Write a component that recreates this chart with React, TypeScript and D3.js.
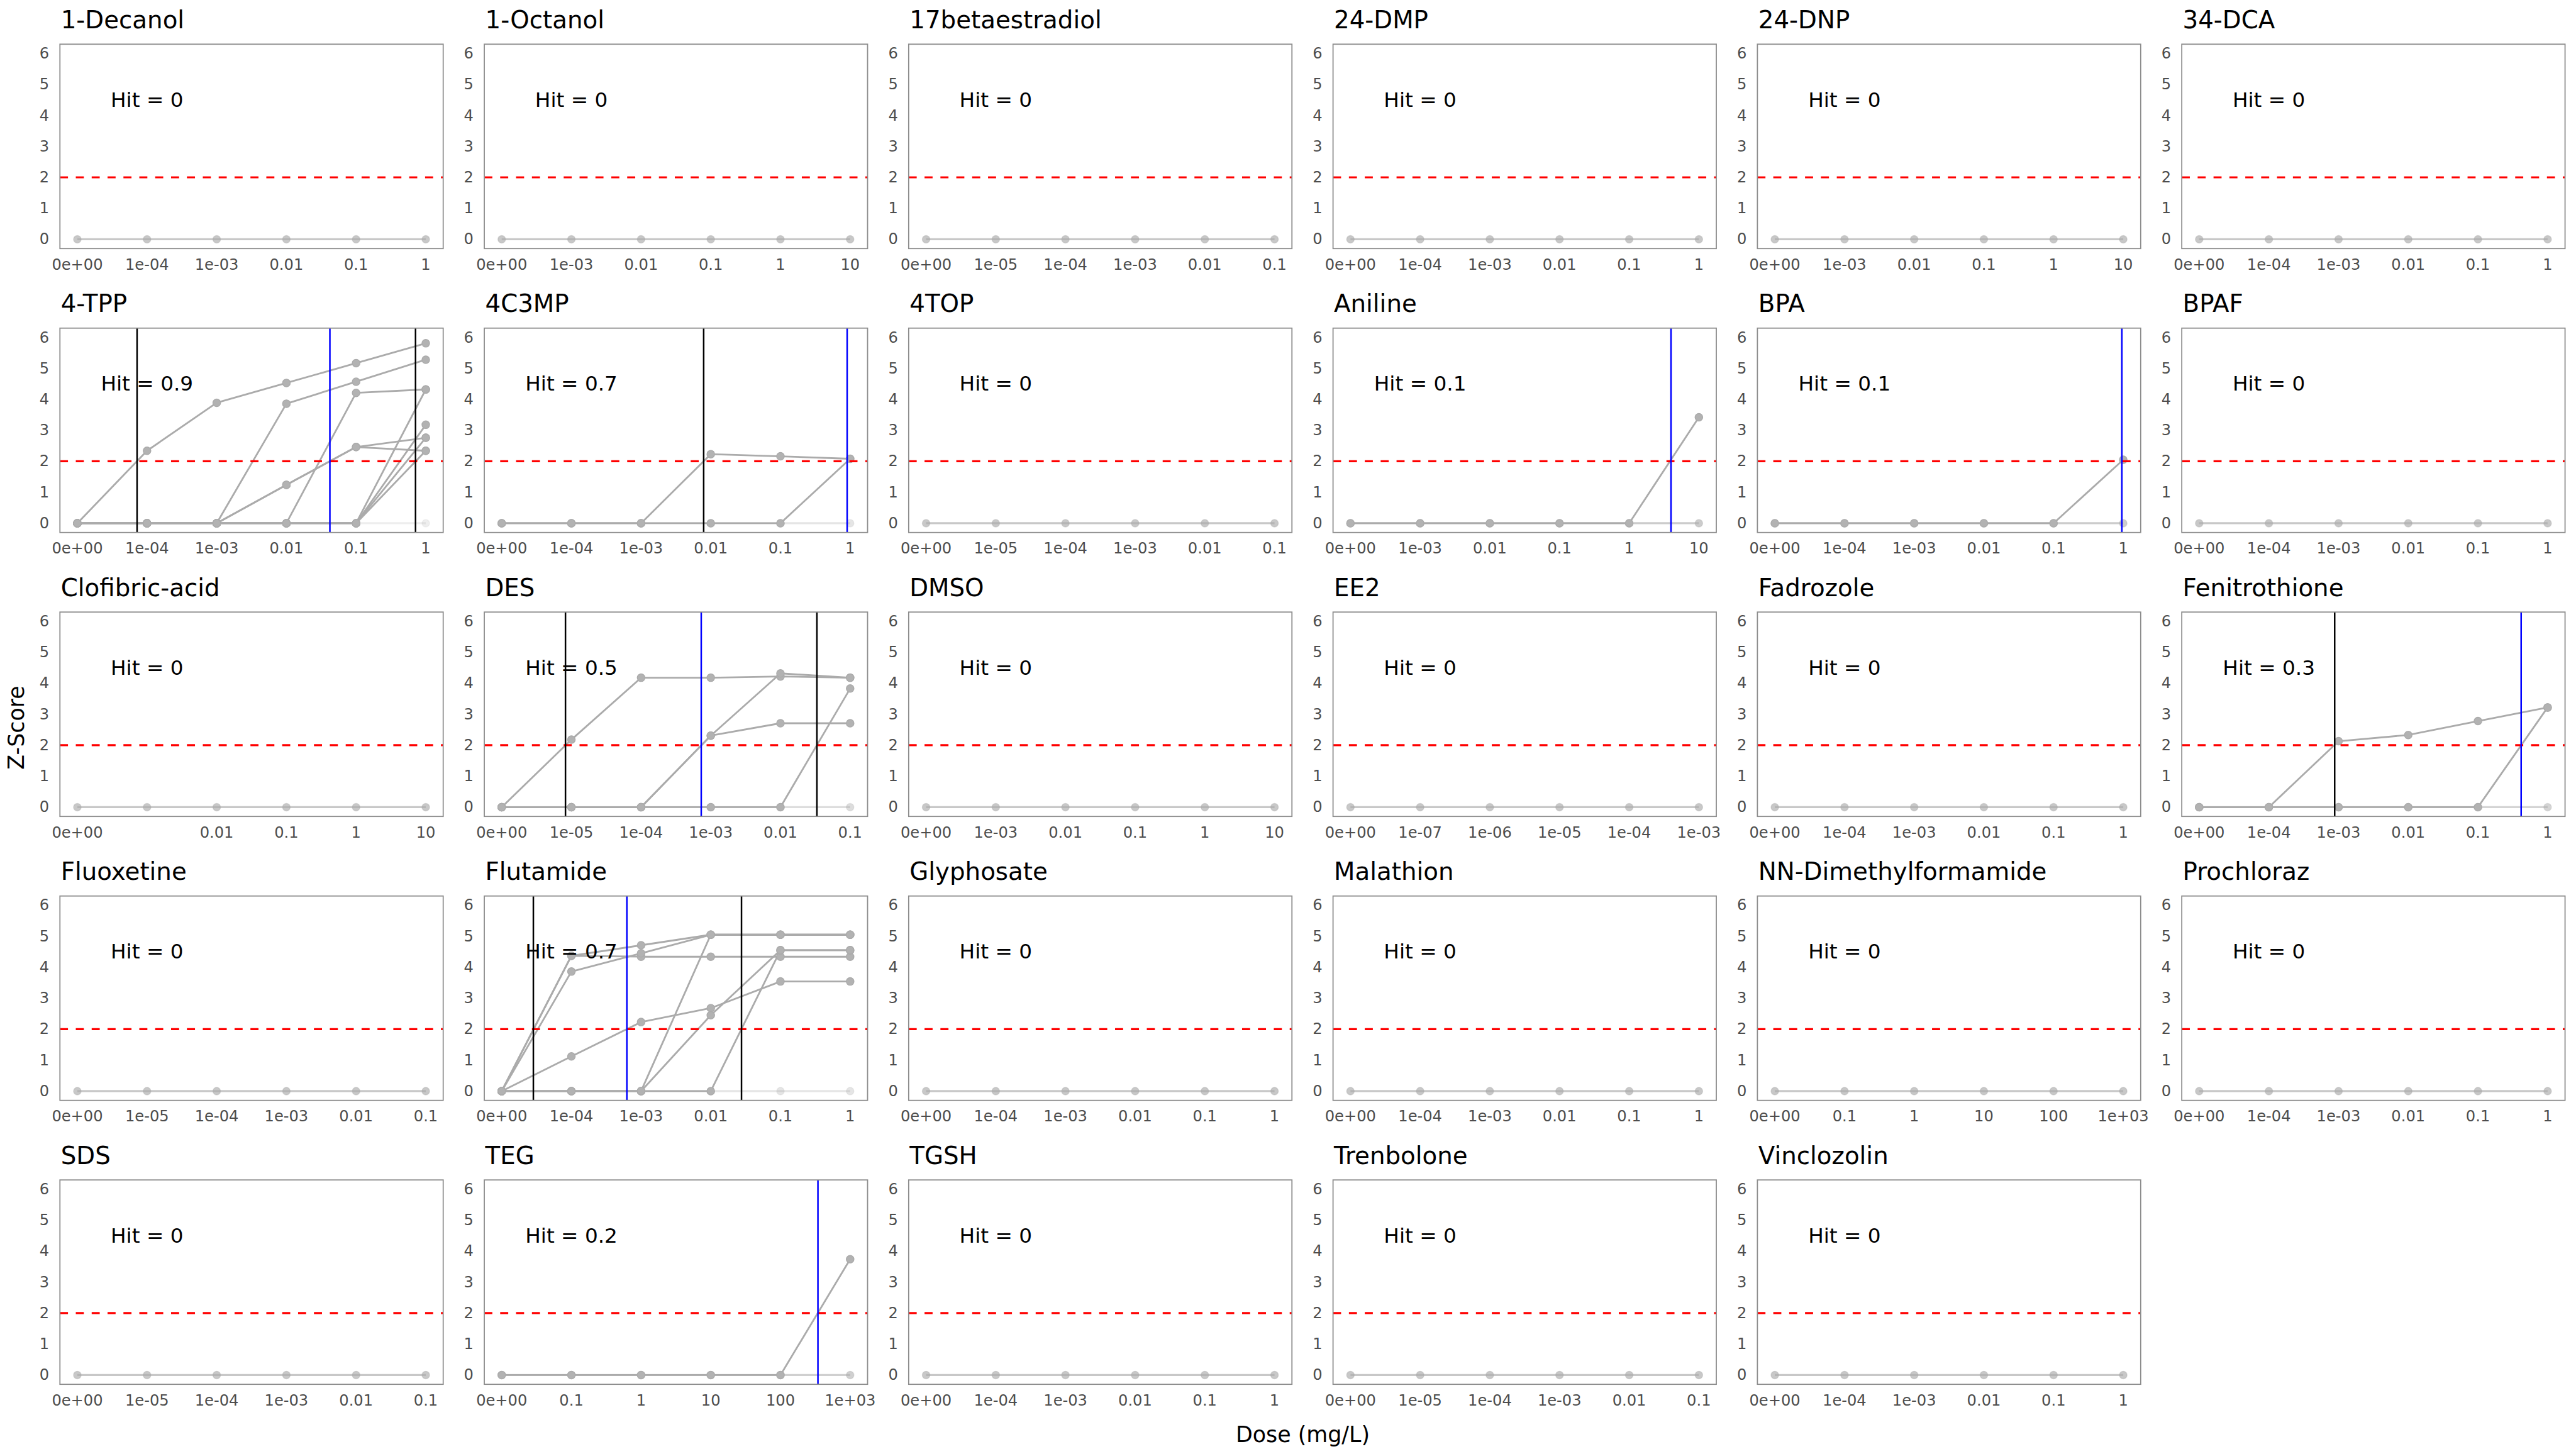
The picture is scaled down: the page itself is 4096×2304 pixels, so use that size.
import React from "react";
import * as d3 from "d3";

// ---------- data ----------
const chemicals = [
  "1-Decanol", "1-Octanol", "17betaestradiol", "24-DMP", "24-DNP", "34-DCA",
  "4-TPP", "4C3MP", "4TOP", "Aniline", "BPA", "BPAF",
  "Clofibric-acid", "DES", "DMSO", "EE2", "Fadrozole", "Fenitrothione",
  "Fluoxetine", "Flutamide", "Glyphosate", "Malathion", "NN-Dimethylformamide", "Prochloraz",
  "SDS", "TEG", "TGSH", "Trenbolone", "Vinclozolin",
];

const hitRates = [
  0, 0, 0, 0, 0, 0,
  0.9, 0.7, 0, 0.1, 0.1, 0,
  0, 0.5, 0, 0, 0, 0.3,
  0, 0.7, 0, 0, 0, 0,
  0, 0.2, 0, 0, 0,
];

const dosesA = ["0e+00", "1e-04", "1e-03", "0.01", "0.1", "1"];
const dosesB = ["0e+00", "1e-03", "0.01", "0.1", "1", "10"];
const dosesC = ["0e+00", "1e-05", "1e-04", "1e-03", "0.01", "0.1"];
const dosesD = ["0e+00", "1e-07", "1e-06", "1e-05", "1e-04", "1e-03"];
const dosesE = ["0e+00", "0.1", "1", "10", "100", "1e+03"];
const dosesF = ["0e+00", "", "0.01", "0.1", "1", "10"];

const doseLabelsByChemical = [
  dosesA, dosesB, dosesC, dosesA, dosesB, dosesA,
  dosesA, dosesA, dosesC, dosesB, dosesA, dosesA,
  dosesF, dosesC, dosesB, dosesD, dosesA, dosesA,
  dosesC, dosesA, dosesA, dosesA, dosesE, dosesA,
  dosesC, dosesE, dosesA, dosesC, dosesA,
];

const baselineCurve = [0, 0, 0, 0, 0, 0];

// Z-score curves of responding replicates (values at the six doses)
const curves4TPP = [
  [0, 2.34, 3.89, 4.53, 5.17, 5.81],
  [0, 0, 0, 3.86, 4.57, 5.28],
  [0, 0, 0, 0, 4.21, 4.32],
  [0, 0, 0, 1.24, 2.46, 2.76],
  [0, 0, 0, 1.24, 2.46, 2.34],
  [0, 0, 0, 0, 0, 4.32],
  [0, 0, 0, 0, 0, 3.18],
  [0, 0, 0, 0, 0, 2.76],
  [0, 0, 0, 0, 0, 2.34],
];
const curves4C3MP = [
  [0, 0, 0, 2.23, 2.16, 2.08],
  [0, 0, 0, 0, 0, 2.08],
];
const curvesAniline = [[0, 0, 0, 0, 0, 3.42]];
const curvesBPA = [[0, 0, 0, 0, 0, 2.05]];
const curvesDES = [
  [0, 2.18, 4.18, 4.18, 4.22, 4.18],
  [0, 0, 0, 2.31, 4.32, 4.18],
  [0, 0, 0, 2.31, 2.71, 2.71],
  [0, 0, 0, 0, 0, 3.83],
];
const curvesFenitrothione = [
  [0, 0, 2.13, 2.33, 2.78, 3.22],
  [0, 0, 0, 0, 0, 3.22],
];
const curvesFlutamide = [
  [0, 4.37, 4.71, 5.05, 5.05, 5.05],
  [0, 4.37, 4.34, 4.34, 4.34, 4.34],
  [0, 3.86, 4.45, 5.05, 5.05, 5.05],
  [0, 1.12, 2.23, 2.68, 3.54, 3.54],
  [0, 0, 0, 5.05, 5.05, 5.05],
  [0, 0, 0, 2.45, 4.55, 4.55],
  [0, 0, 0, 0, 4.55, 4.55],
];
const curvesTEG = [[0, 0, 0, 0, 0, 3.74]];

const responseCurves: Record<string, number[][]> = {
  "4-TPP": curves4TPP,
  "4C3MP": curves4C3MP,
  Aniline: curvesAniline,
  BPA: curvesBPA,
  DES: curvesDES,
  Fenitrothione: curvesFenitrothione,
  Flutamide: curvesFlutamide,
  TEG: curvesTEG,
};

// benchmark dose positions (in dose-index units): lower bound, median, upper bound
const bmdLower: Record<string, number> = {
  "4-TPP": 0.857, "4C3MP": 2.898, DES: 0.915, Fenitrothione: 1.944, Flutamide: 0.454,
};
const bmdMedian: Record<string, number> = {
  "4-TPP": 3.624, "4C3MP": 4.957, Aniline: 4.6, BPA: 4.98, DES: 2.863,
  Fenitrothione: 4.62, Flutamide: 1.796, TEG: 4.538,
};
const bmdUpper: Record<string, number> = {
  "4-TPP": 4.853, DES: 4.523, Flutamide: 3.441,
};

const yTicks = [0, 1, 2, 3, 4, 5, 6];
const threshold = 2;

// ---------- layout (reference pixel space) ----------
const W = 5760;
const H = 3240;
const COL0 = 134;
const COL_STEP = 948.9;
const BOX_W = 857;
const ROW0 = 98.8;
const ROW_STEP = 634.9;
const BOX_H = 457;
const FONT = "DejaVu Sans, Verdana, sans-serif";

const RESP = "#ababab";
const BASE = "#aaaaaa";

function Panel({ index }: { index: number }) {
  const name = chemicals[index];
  const hit = hitRates[index];
  const labels = doseLabelsByChemical[index];
  const col = index % 6;
  const row = Math.floor(index / 6);
  const left = COL0 + col * COL_STEP;
  const top = ROW0 + row * ROW_STEP;
  const x = d3.scaleLinear().domain([-0.25, 5.25]).range([left, left + BOX_W]);
  const y = d3.scaleLinear().domain([-0.3, 6.3]).range([top + BOX_H, top]);
  const line = d3
    .line<number>()
    .x((_, j) => x(j))
    .y((v) => y(v));
  const curves = responseCurves[name] || [];
  const baseOpacity = 0.65 - 0.5 * hit;
  const lo = bmdLower[name];
  const med = bmdMedian[name];
  const up = bmdUpper[name];

  return (
    <g>
      <text x={left + 2} y={top - 36} fontSize={54.5} fill="#000" fontFamily={FONT}>
        {name}
      </text>
      {yTicks.map((t) => (
        <text
          key={"y" + t}
          x={left - 24}
          y={y(t)}
          fontSize={34}
          fill="#4d4d4d"
          textAnchor="end"
          dominantBaseline="central"
          fontFamily={FONT}
        >
          {t}
        </text>
      ))}
      {labels.map((l, j) => (
        <text
          key={"x" + j}
          x={x(j)}
          y={top + BOX_H + 36}
          fontSize={34}
          fill="#4d4d4d"
          textAnchor="middle"
          dominantBaseline="central"
          fontFamily={FONT}
        >
          {l}
        </text>
      ))}
      <rect x={left} y={top} width={BOX_W} height={BOX_H} fill="#fff" />
      {/* baseline replicate(s) */}
      <path
        d={line(baselineCurve) || ""}
        fill="none"
        stroke={BASE}
        strokeOpacity={baseOpacity}
        strokeWidth={4.5}
      />
      {baselineCurve.map((v, j) => (
        <circle
          key={"b" + j}
          cx={x(j)}
          cy={y(v)}
          r={8.5}
          fill={BASE}
          fillOpacity={baseOpacity}
          stroke={BASE}
          strokeOpacity={baseOpacity * 0.6}
          strokeWidth={2}
        />
      ))}
      {curves.map((c, k) => (
        <path
          key={"c" + k}
          d={line(c) || ""}
          fill="none"
          stroke={RESP}
          strokeWidth={4}
          strokeLinejoin="round"
        />
      ))}
      {curves.map((c, k) =>
        c.map((v, j) => (
          <circle
            key={"p" + k + "-" + j}
            cx={x(j)}
            cy={y(v)}
            r={8.5}
            fill="#b2b2b2"
            stroke={RESP}
            strokeWidth={2}
          />
        ))
      )}
      <line
        x1={left}
        x2={left + BOX_W}
        y1={y(threshold)}
        y2={y(threshold)}
        stroke="#ff0000"
        strokeWidth={4.5}
        strokeDasharray="18 17.5"
      />
      {lo !== undefined && (
        <line x1={x(lo)} x2={x(lo)} y1={top} y2={top + BOX_H} stroke="#000" strokeWidth={3.5} />
      )}
      {up !== undefined && (
        <line x1={x(up)} x2={x(up)} y1={top} y2={top + BOX_H} stroke="#000" strokeWidth={3.5} />
      )}
      {med !== undefined && (
        <line x1={x(med)} x2={x(med)} y1={top} y2={top + BOX_H} stroke="#0000ff" strokeWidth={3.5} />
      )}
      <text
        x={x(1)}
        y={y(4.5)}
        fontSize={46}
        fill="#000"
        textAnchor="middle"
        dominantBaseline="central"
        fontFamily={FONT}
      >
        {"Hit = " + hit}
      </text>
      <rect
        x={left}
        y={top}
        width={BOX_W}
        height={BOX_H}
        fill="none"
        stroke="#8c8c8c"
        strokeWidth={2.5}
      />
    </g>
  );
}

export default function App() {
  return (
    <svg
      width={4096}
      height={2304}
      viewBox={`0 0 ${W} ${H}`}
      style={{ position: "absolute", left: 0, top: 0, background: "#fff" }}
    >
      <rect x={0} y={0} width={W} height={H} fill="#fff" />
      {chemicals.map((_, i) => (
        <Panel key={i} index={i} />
      ))}
      <text
        x={2913}
        y={3207}
        fontSize={49}
        fill="#000"
        textAnchor="middle"
        dominantBaseline="central"
        fontFamily={FONT}
      >
        Dose (mg/L)
      </text>
      <text
        transform={`translate(37,1627) rotate(-90)`}
        fontSize={49}
        fill="#000"
        textAnchor="middle"
        dominantBaseline="central"
        fontFamily={FONT}
      >
        Z-Score
      </text>
    </svg>
  );
}
